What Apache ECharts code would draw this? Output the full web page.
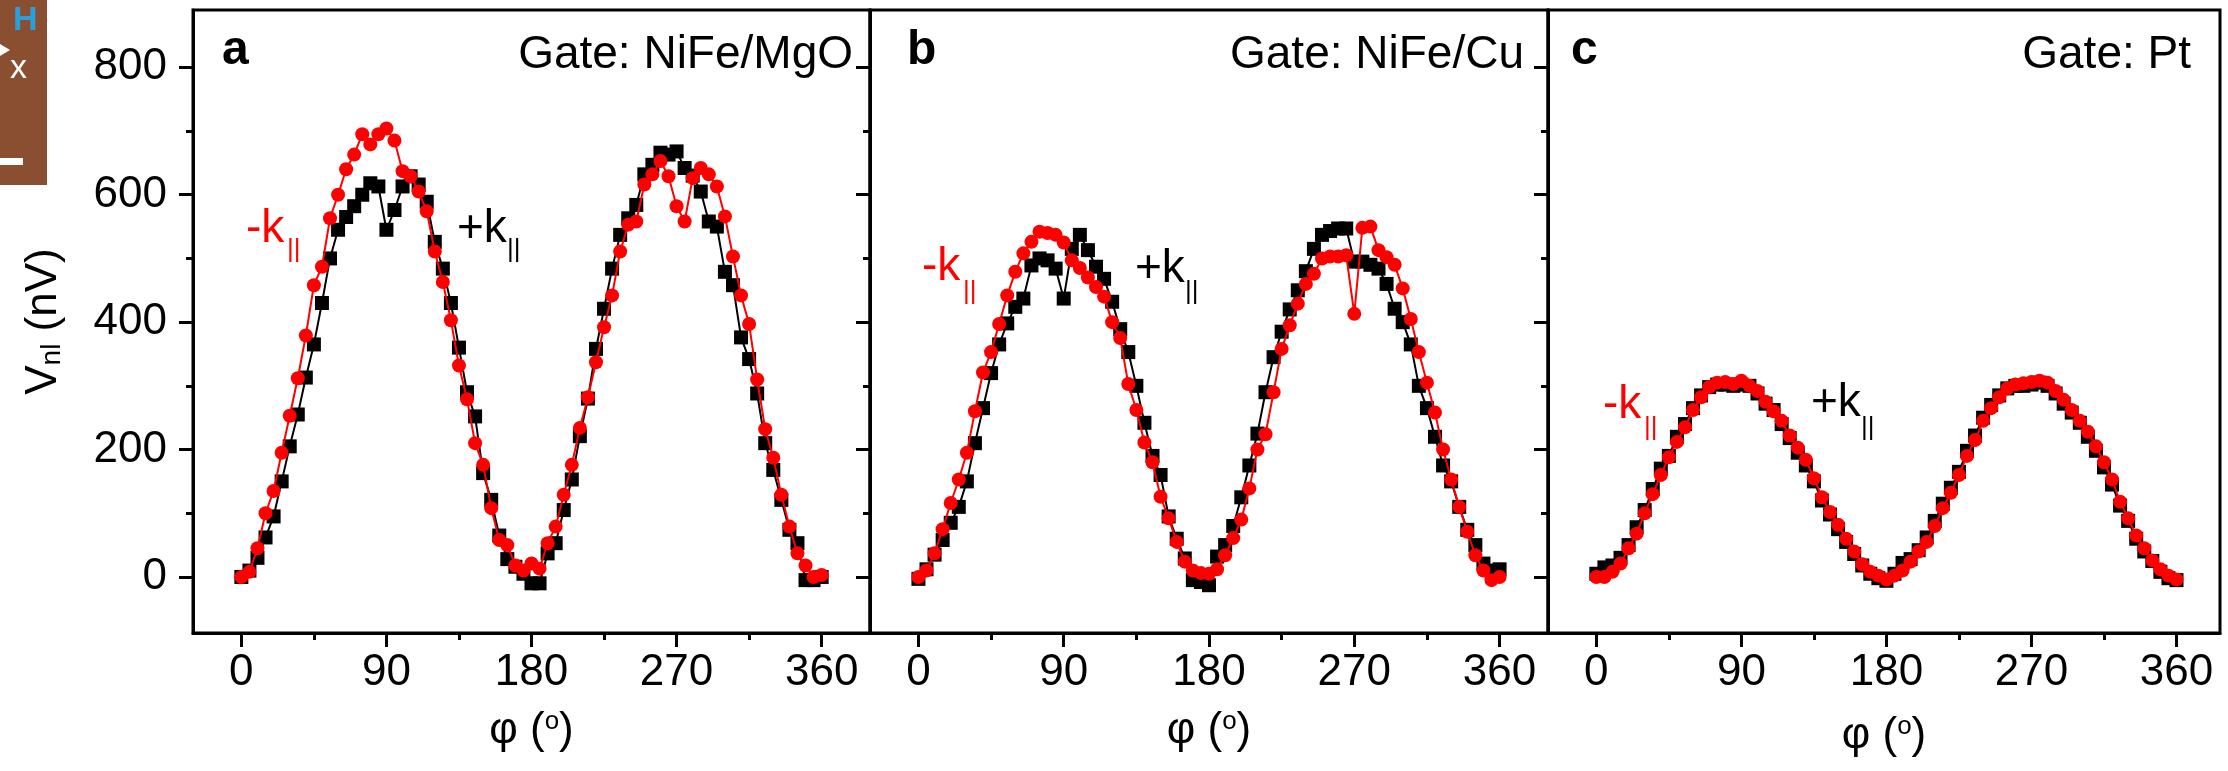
<!DOCTYPE html>
<html><head><meta charset="utf-8">
<script src="https://cdn.jsdelivr.net/npm/echarts@6/dist/echarts.min.js"></script>
<style>html,body{margin:0;padding:0;background:#fff}#c{width:2228px;height:771px}</style>
</head><body><div id="c"></div>
<script>
// ---------- data ----------
const angles = [0,5,10,15,20,25,30,35,40,45,50,55,60,65,70,75,80,85,90,95,100,105,110,115,120,125,130,135,140,145,150,155,160,165,170,175,180,185,190,195,200,205,210,215,220,225,230,235,240,245,250,255,260,265,270,275,280,285,290,295,300,305,310,315,320,325,330,335,340,345,350,355,360];

// panel a: Gate NiFe/MgO
const aPlusK = [0,10,30,62,95,150,205,255,313,365, 430,500,545,565,582,600,618,613,545,576, 613,629,616,589,526,484,430,360,290,252, 163,121,65,28,16,5,-10,-10,37,53, 105,153,221,280,358,421,484,537,563,584, 632,647,666,663,668,642,630,605,558,550, 479,458,376,342,288,210,168,121,74,53, -5,-5,0];
const aMinusK = [0,8,45,100,135,195,253,312,379,458, 487,563,600,640,663,695,679,695,704,685, 637,629,605,574,511,463,403,332,279,210, 176,108,58,50,18,10,21,13,53,79, 129,176,234,282,337,392,442,511,553,558, 616,632,653,629,582,558,626,642,632,613, 566,503,442,397,310,232,187,129,79,37, 18,0,3];

// panel b: Gate NiFe/Cu
const bPlusK = [-3,12,35,58,85,110,150,210,265,320, 365,398,424,437,489,500,497,484,437,515, 537,513,487,468,432,389,353,300,242,190, 160,95,60,29,-5,-8,-13,32,50,80, 125,175,225,290,345,385,420,450,480,515, 537,543,547,547,495,495,490,484,460,421, 400,365,300,265,220,175,150,110,74,50, 21,10,12];
const bMinusK = [0,10,37,75,116,153,195,260,321,353, 397,442,479,508,526,542,540,537,525,497, 485,470,455,440,400,375,303,262,211,180, 126,92,55,24,10,6,5,12,34,61, 90,139,200,224,290,358,395,429,460,476, 500,503,503,505,413,548,550,513,502,490, 453,405,353,305,258,200,153,110,71,34, 10,-5,0];

// panel c: Gate Pt
const cPlusK = [5,15,18,30,50,78,105,138,170,190, 220,240,265,285,298,302,302,300,302,300, 288,272,262,240,218,195,175,150,120,98, 75,55,36,18,5,-2,-6,5,22,28, 42,62,88,115,140,165,198,222,250,270, 285,296,300,300,302,305,300,288,272,258, 242,220,198,172,145,112,88,60,40,25, 8,-2,-5];
const cMinusK = [0,0,8,21,45,68,100,130,160,188, 212,235,262,282,298,305,306,303,308,300, 292,275,260,245,222,203,184,155,125,102, 82,60,40,20,8,2,-4,2,10,24, 40,55,80,108,132,160,190,215,245,265, 282,296,302,304,306,308,305,292,278,262, 245,228,205,180,153,118,92,65,45,26, 12,2,-4];

const xMajorTicks = [0,90,180,270,360];
const xMinorTicks = [45,135,225,315];
const yMajorTicks = [0,200,400,600,800];
const yMinorTicks = [100,300,500,700];
const panelLetters = ['a','b','c'];
const gateLabels = ['Gate: NiFe/MgO','Gate: NiFe/Cu','Gate: Pt'];
const plusLabel = '+k';
const minusLabel = '-k';
const parSub = '||';
const xName = '{t|φ (}{s|o}{t|)}';
const yName = '{v|V}{s|nl}{v| (nV)}';

// ---------- layout / style ----------
const FONT = '"Liberation Sans", Arial, sans-serif';
const panels = [
  {left:193, width:677, xMax:390, plus:aPlusK, minus:aMinusK, nameGap:76,
   letter:[222,51], gate:[853,55], mk:[246,229], pk:[457,229], kBarY:250},
  {left:870, width:678, xMax:390, plus:bPlusK, minus:bMinusK, nameGap:76,
   letter:[907,51], gate:[1524,55], mk:[922,267], pk:[1135,269], kBarY:292},
  {left:1548, width:672, xMax:387, plus:cPlusK, minus:cMinusK, nameGap:81,
   letter:[1571,51], gate:[2191,55], mk:[1603,405], pk:[1811,403], kBarY:428}
];
const TOP = 10, HEIGHT = 623, YMIN = -88, YMAX = 890;

const grid = [], xAxis = [], yAxis = [], series = [], graphic = [];

panels.forEach((p, i) => {
  grid.push({left:p.left, top:TOP, width:p.width, height:HEIGHT, show:true,
    borderColor:'#000', borderWidth:3, backgroundColor:'transparent', outerBoundsMode:'none'});
});
panels.forEach((p, i) => {
  xAxis.push({type:'value', gridIndex:i, min:-30, max:p.xMax, position:'bottom',
    axisLine:{show:true, onZero:false, lineStyle:{color:'#000', width:3}},
    axisTick:{show:true, inside:false, length:14, customValues:xMajorTicks, lineStyle:{color:'#000', width:3}},
    axisLabel:{show:true, customValues:xMajorTicks, fontSize:44, color:'#000', fontFamily:FONT, margin:18},
    splitLine:{show:false},
    name:xName, nameLocation:'middle', nameGap:p.nameGap,
    nameTextStyle:{color:'#000', fontFamily:FONT,
      rich:{t:{fontSize:44, fontFamily:FONT, color:'#000'}, s:{fontSize:26, fontFamily:FONT, color:'#000', verticalAlign:'top'}}}
  });
  yAxis.push({type:'value', gridIndex:i, min:YMIN, max:YMAX, position:'left',
    axisLine:{show:true, onZero:false, lineStyle:{color:'#000', width:3}},
    axisTick:{show:true, inside:false, length:14, customValues:yMajorTicks, lineStyle:{color:'#000', width:3}},
    axisLabel:{show:i===0, customValues:yMajorTicks, fontSize:44, color:'#000', fontFamily:FONT, margin:26},
    splitLine:{show:false},
    name: i===0 ? yName : '', nameLocation:'middle', nameGap:127, nameRotate:90,
    nameTextStyle:{color:'#000', fontFamily:FONT,
      rich:{v:{fontSize:44, fontFamily:FONT, color:'#000'}, s:{fontSize:28, fontFamily:FONT, color:'#000', verticalAlign:'bottom'}}}
  });
});
panels.forEach((p, i) => {
  xAxis.push({type:'value', gridIndex:i, min:-30, max:p.xMax, position:'bottom',
    axisLine:{show:false, onZero:false},
    axisTick:{show:true, inside:false, length:7, customValues:xMinorTicks, lineStyle:{color:'#000', width:3}},
    axisLabel:{show:false}, splitLine:{show:false}});
  yAxis.push({type:'value', gridIndex:i, min:YMIN, max:YMAX, position:'left',
    axisLine:{show:false, onZero:false},
    axisTick:{show:true, inside:false, length:7, customValues:yMinorTicks, lineStyle:{color:'#000', width:3}},
    axisLabel:{show:false}, splitLine:{show:false}});
});
panels.forEach((p, i) => {
  series.push({type:'line', xAxisIndex:i, yAxisIndex:i, name:'+k'+i,
    data: angles.map((a,k)=>[a, p.plus[k]]),
    symbol:'rect', symbolSize:14, showSymbol:true,
    lineStyle:{color:'#000', width:2}, itemStyle:{color:'#000'}, z:2});
  series.push({type:'line', xAxisIndex:i, yAxisIndex:i, name:'-k'+i,
    data: angles.map((a,k)=>[a, p.minus[k]]),
    symbol:'circle', symbolSize:14, showSymbol:true,
    lineStyle:{color:'#ff0000', width:2}, itemStyle:{color:'#ff0000'}, z:3});
});

function T(text, x, y, size, fill, align, bold) {
  return {type:'text', x:x, y:y, z:10,
    style:{text:text, fontSize:size, fontFamily:FONT, fontWeight:bold?'bold':'normal',
      fill:fill, align:align||'left', verticalAlign:'middle'}};
}
panels.forEach((p, i) => {
  graphic.push(T(panelLetters[i], p.letter[0], p.letter[1], 48, '#000', 'left', true));
  graphic.push(T(gateLabels[i], p.gate[0], p.gate[1], 46, '#000', 'right'));
  graphic.push(T(minusLabel, p.mk[0], p.mk[1], 46, '#ff0000'));
  graphic.push(T(parSub, p.mk[0]+41, p.kBarY, 26, '#ff0000'));
  graphic.push(T(plusLabel, p.pk[0], p.pk[1], 46, '#000'));
  graphic.push(T(parSub, p.pk[0]+50, p.kBarY, 26, '#000'));
});
// cropped inset fragment at the top-left
graphic.push({type:'rect', shape:{x:0, y:0, width:47, height:185}, style:{fill:'#8a4e30'}, z:1});
graphic.push({type:'text', x:13, y:4, z:2, style:{text:'H', fontSize:34, fontWeight:'bold', fontFamily:FONT, fill:'#2a9fd8'}});
graphic.push({type:'polygon', shape:{points:[[0,44],[10,50],[0,56]]}, style:{fill:'#fff'}, z:2});
graphic.push({type:'text', x:10, y:52, z:2, style:{text:'x', fontSize:34, fontFamily:FONT, fill:'#fff'}});
graphic.push({type:'rect', shape:{x:0, y:158, width:23, height:7}, style:{fill:'#fff'}, z:2});

const chart = echarts.init(document.getElementById('c'), null, {renderer:'canvas'});
chart.setOption({animation:false, backgroundColor:'#fff', grid, xAxis, yAxis, series, graphic});
</script></body></html>
